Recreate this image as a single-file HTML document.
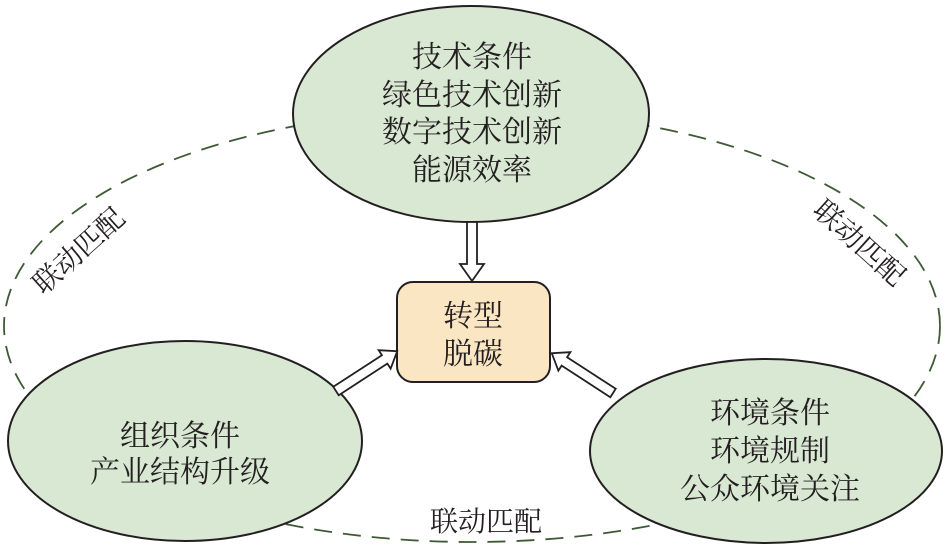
<!DOCTYPE html>
<html><head><meta charset="utf-8"><style>
html,body{margin:0;padding:0;background:#fff}
svg text{font-family:"Noto Serif CJK SC","Liberation Serif",serif;fill:#231f20}
</style></head><body>
<svg width="948" height="555" viewBox="0 0 948 555" xmlns="http://www.w3.org/2000/svg">
<ellipse cx="472" cy="326" rx="468" ry="216" fill="none" stroke="#3d5a35" stroke-width="1.8" stroke-dasharray="18,11"/>
<ellipse cx="471" cy="114" rx="178" ry="108" fill="#d9e8d3" stroke="#231f20" stroke-width="2"/>
<ellipse cx="185" cy="441" rx="177" ry="100" fill="#d9e8d3" stroke="#231f20" stroke-width="2"/>
<ellipse cx="766" cy="451" rx="176" ry="92" fill="#d9e8d3" stroke="#231f20" stroke-width="2"/>
<rect x="397" y="282" width="153" height="100" rx="16" fill="#fbe6c3" stroke="#231f20" stroke-width="2"/>
<polygon points="467,222 477,222 477,264 484,264 472,281 460,264 467,264" fill="#fff" stroke="#231f20" stroke-width="1.8"/>
<g transform="translate(336,391) rotate(-33)"><polygon points="0,-5 58,-5 58,-11 73,0 58,11 58,5 0,5" fill="#fff" stroke="#231f20" stroke-width="1.8"/></g>
<g transform="translate(613,393) rotate(-147)"><polygon points="0,-5 58,-5 58,-11 73,0 58,11 58,5 0,5" fill="#fff" stroke="#231f20" stroke-width="1.8"/></g>
<g font-size="30" text-anchor="middle">
<text x="472" y="67">技术条件</text>
<text x="472" y="105">绿色技术创新</text>
<text x="472" y="142">数字技术创新</text>
<text x="472" y="180">能源效率</text>
<text x="473" y="326">转型</text>
<text x="473" y="364">脱碳</text>
<text x="180" y="446">组织条件</text>
<text x="180" y="482">产业结构升级</text>
<text x="770" y="423">环境条件</text>
<text x="770" y="461">环境规制</text>
<text x="770" y="499">公众环境关注</text>
</g>
<g font-size="28" text-anchor="middle">
<text x="486" y="531">联动匹配</text>
<text transform="translate(85,258) rotate(-42)">联动匹配</text>
<text transform="translate(853,250) rotate(42)">联动匹配</text>
</g>
</svg>
</body></html>
